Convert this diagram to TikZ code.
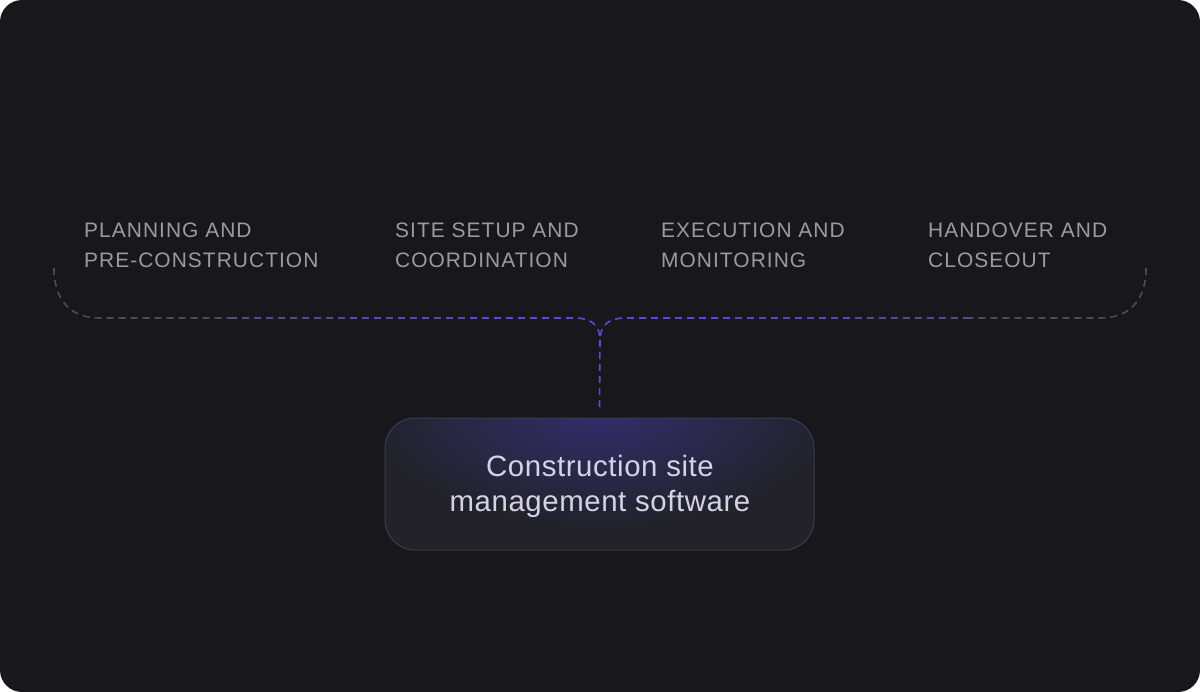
\documentclass[tikz,border=0pt]{standalone}
\usepackage{fontspec}
\setmainfont{Liberation Sans}
\newfontfamily\labfont[LetterSpace=5]{Liberation Sans}
\newfontfamily\boxfont[LetterSpace=2]{Liberation Sans}
\usetikzlibrary{calc}
\definecolor{bgc}{HTML}{18181C}
\definecolor{labc}{HTML}{9A9AA2}
\definecolor{boxfill}{HTML}{222228}
\definecolor{boxedge}{HTML}{3C3A55}
\definecolor{glow}{HTML}{332E6E}
\definecolor{txtc}{HTML}{D6D2E6}
\definecolor{dashgray}{HTML}{4C4C55}
\definecolor{dashpurple}{HTML}{5A4AD8}
\tikzset{
  lab/.style={anchor=base west, align=left, text=labc, font=\labfont\fontsize{21}{30}\selectfont, inner sep=0pt},
  conn/.style={line width=1.6bp, dash pattern=on 7bp off 5bp},
}
\begin{document}
\begin{tikzpicture}[x=1bp,y=-1bp]
\useasboundingbox (0,0) rectangle (1200,692);
\fill[white] (0,0) rectangle (1200,692);
\fill[bgc, rounded corners=22bp] (0,0) rectangle (1200,692);
% labels (base = baseline of last line)
\node[lab] (l1) at (84,267) {PLANNING AND\\PRE-CONSTRUCTION};
\node[lab] (l2) at (395,267) {SITE SETUP AND\\COORDINATION};
\node[lab] (l3) at (661,267) {EXECUTION AND\\MONITORING};
\node[lab] (l4) at (928,267) {HANDOVER AND\\CLOSEOUT};
% box
\begin{scope}
\clip[rounded corners=30bp] (385,418) rectangle (814,550);
\fill[boxfill] (385,418) rectangle (814,550);
\shade[inner color=glow, outer color=boxfill] (600,410) ellipse [x radius=240bp, y radius=120bp];
\end{scope}
\draw[boxedge, line width=1bp, rounded corners=30bp] (385,418) rectangle (814,550);
\node[inner sep=0pt, minimum width=429bp, minimum height=132bp] (sw) at (599.5,484) {};
\node[text=txtc, align=center, font=\boxfont\fontsize{29.5}{35}\selectfont, anchor=base, inner sep=0pt] (swt) at (600,511) {Construction site\\management software};
% connectors
\coordinate (lend) at (54,268);
\coordinate (rend) at (1146,268);
\coordinate (jn) at (600,340);
\coordinate (top) at ($(sw.north)+(0,-9)$);
\draw[conn, dashgray] (lend) .. controls (54,300) and (70,318) .. (100,318) -- (230,318);
\draw[conn, dashgray!60!dashpurple] (230,318) -- (350,318);
\draw[conn, dashgray!25!dashpurple] (350,318) -- (470,318);
\draw[conn, dashpurple] (470,318) -- (575,318) .. controls (592,318) and (600,326) .. (jn);
\draw[conn, dashgray] (rend) .. controls (1146,300) and (1130,318) .. (1100,318) -- (970,318);
\draw[conn, dashgray!60!dashpurple] (970,318) -- (850,318);
\draw[conn, dashgray!25!dashpurple] (850,318) -- (730,318);
\draw[conn, dashpurple] (730,318) -- (625,318) .. controls (608,318) and (600,326) .. (jn);
\draw[conn, dashpurple] (jn) -- (top);
\end{tikzpicture}
\end{document}
